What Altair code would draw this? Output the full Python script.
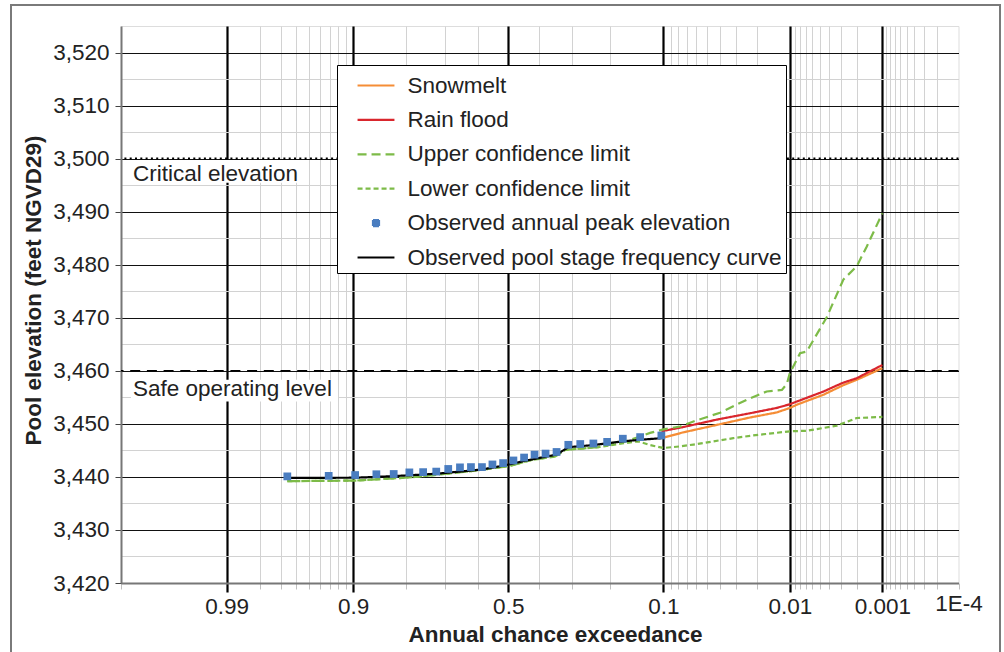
import altair as alt
import pandas as pd
from statistics import NormalDist

# ---------------- values ----------------
series_names = [
    "Snowmelt",
    "Rain flood",
    "Upper confidence limit",
    "Lower confidence limit",
    "Observed annual peak elevation",
    "Observed pool stage frequency curve",
]

# Observed annual peaks (annual chance exceedance, elevation ft)
obs_p = [0.966, 0.931, 0.897, 0.862, 0.828, 0.793, 0.759, 0.724, 0.690, 0.655,
         0.621, 0.586, 0.552, 0.517, 0.483, 0.448, 0.414, 0.379, 0.345, 0.310,
         0.276, 0.241, 0.207, 0.172, 0.138, 0.103]
obs_elev = [3440.1, 3440.2, 3440.35, 3440.5, 3440.55, 3440.85, 3440.9, 3441.0, 3441.5, 3441.8,
            3441.85, 3441.85, 3442.35, 3442.6, 3443.1, 3443.65, 3444.2, 3444.4, 3444.7, 3446.05,
            3446.2, 3446.3, 3446.6, 3447.2, 3447.5, 3447.8]

# Observed pool stage frequency curve
curve_p = [0.966, 0.897, 0.862, 0.793, 0.724, 0.655, 0.586, 0.517, 0.448, 0.379,
           0.345, 0.310, 0.241, 0.172, 0.138, 0.103]
curve_elev = [3439.8, 3439.85, 3440.0, 3440.3, 3440.6, 3441.0, 3441.4, 3442.1, 3443.0, 3443.8,
              3444.2, 3445.6, 3446.0, 3446.7, 3447.0, 3447.3]

# Snowmelt and rain flood frequency curves
snow_p = [0.103, 0.074, 0.0425, 0.0229, 0.0133, 0.01, 0.0086, 0.0046, 0.0029, 0.002, 0.001]
snow_elev = [3447.3, 3448.4, 3449.8, 3451.2, 3452.15, 3453.0, 3453.6, 3455.5, 3457.2, 3458.3, 3460.5]
rain_p = [0.103, 0.074, 0.0425, 0.0229, 0.0133, 0.01, 0.0086, 0.0046, 0.0029, 0.002, 0.001]
rain_elev = [3448.6, 3449.4, 3450.8, 3452.0, 3453.0, 3453.7, 3454.2, 3456.1, 3457.7, 3458.6, 3461.1]

# Confidence limits
upper_p = [0.966, 0.897, 0.793, 0.724, 0.621, 0.5, 0.4227, 0.349, 0.319, 0.229,
           0.1735, 0.138, 0.1207, 0.100, 0.078, 0.0631, 0.0401, 0.0244, 0.0164, 0.0119,
           0.0107, 0.01, 0.00797, 0.00684, 0.00426, 0.00282, 0.002, 0.00153, 0.001]
upper_elev = [3439.2, 3439.3, 3439.9, 3440.4, 3441.1, 3442.0, 3443.2, 3443.85, 3445.1, 3445.6,
              3446.5, 3447.6, 3448.3, 3448.95, 3449.5, 3450.45, 3452.1, 3454.55, 3456.1, 3456.4,
              3457.5, 3459.6, 3463.3, 3463.65, 3470.1, 3477.2, 3479.7, 3483.45, 3489.7]
lower_p = [0.966, 0.897, 0.793, 0.724, 0.621, 0.5, 0.4227, 0.349, 0.319, 0.229,
           0.1735, 0.1417, 0.1207, 0.100, 0.078, 0.0631, 0.0315, 0.0229, 0.01, 0.00684,
           0.00333, 0.002, 0.001]
lower_elev = [3439.2, 3439.3, 3439.9, 3440.4, 3441.1, 3442.0, 3443.2, 3443.85, 3445.1, 3445.6,
              3446.3, 3446.7, 3446.0, 3445.45, 3445.75, 3446.1, 3447.3, 3447.75, 3448.6, 3448.7,
              3449.65, 3451.1, 3451.3]

# Reference levels
ref_levels = [3500, 3460]
ref_labels = ["Critical elevation", "Safe operating level"]

# Axis ticks (annual chance exceedance)
x_major = [0.99, 0.9, 0.5, 0.1, 0.01, 0.001]
x_major_labels = ["0.99", "0.9", "0.5", "0.1", "0.01", "0.001"]
x_end = [0.0001]
x_end_labels = ["1E-4"]
x_minor = [0.98, 0.97, 0.96, 0.95, 0.94, 0.93, 0.92, 0.91,
           0.8, 0.7, 0.6, 0.4, 0.3, 0.2,
           0.09, 0.08, 0.07, 0.06, 0.05, 0.04, 0.03, 0.02,
           0.009, 0.008, 0.007, 0.006, 0.005, 0.004, 0.003, 0.002,
           0.0009, 0.0008, 0.0007, 0.0006, 0.0005, 0.0004, 0.0003, 0.0002]
x_left_edge = 0.99931
y_ticks = list(range(3420, 3525, 5))

# ---------------- probability (normal) transform ----------------
ND = NormalDist()


def zq(p):
    return round(ND.inv_cdf(1.0 - p), 5)


def frame(name, ps, es):
    return pd.DataFrame({"series": name, "z": [zq(p) for p in ps], "elev": es})


lines_df = pd.concat([
    frame(series_names[0], snow_p, snow_elev),
    frame(series_names[1], rain_p, rain_elev),
    frame(series_names[2], upper_p, upper_elev),
    frame(series_names[3], lower_p, lower_elev),
    frame(series_names[5], curve_p, curve_elev),
], ignore_index=True)
points_df = frame(series_names[4], obs_p, obs_elev)

# ---------------- styles ----------------
FONT = "Liberation Sans"
TXT = "#222222"
FS = 22.5
colors = ["#F58D36", "#D9262D", "#7DBB48", "#7DBB48", "#4A7DC0", "#000000"]
dashes = [[1, 0], [1, 0], [9, 5], [5, 3], [1, 0], [1, 0]]
LINE_SYM = "M-1.23,0H1.23"
SQ_SYM = "M-0.2,-0.2H0.2V0.2H-0.2Z"
shapes = [LINE_SYM, LINE_SYM, LINE_SYM, LINE_SYM, SQ_SYM, LINE_SYM]

z_major = [zq(p) for p in x_major]
z_end = [zq(p) for p in x_end]
z_minor = [zq(p) for p in x_minor]
z_left = zq(x_left_edge)
x_values = sorted(set([z_left] + z_major + z_end + z_minor))


def near(zs):
    return " || ".join(f"abs(datum.value - ({z})) < 0.0001" for z in zs)


major_test = near(z_major)
edge_test = near([z_left] + z_end)
label_pairs = list(zip(z_major, x_major_labels)) + list(zip(z_end, x_end_labels))
label_expr = ""
for z, lab in label_pairs:
    label_expr += f"abs(datum.value - ({z})) < 0.0001 ? '{lab}' : "
label_expr += "''"

x_axis = alt.Axis(
    title="Annual chance exceedance",
    values=x_values,
    labelExpr=label_expr,
    labelFont=FONT, labelFontSize=FS, labelColor=TXT, labelPadding=3,
    labelOverlap=False, labelFlush=False,
    titleFont=FONT, titleFontSize=FS, titleFontWeight="bold", titleColor=TXT,
    titleX=434, titleY=58, titleBaseline="alphabetic", titleAlign="center",
    domainColor="#777777", domainWidth=2,
    grid=True,
    gridColor={"condition": {"test": major_test, "value": "#000000"}, "value": "#d2d2d2"},
    gridWidth={"condition": {"test": major_test, "value": 2.2}, "value": 1},
    gridOpacity={"condition": {"test": edge_test, "value": 0}, "value": 1},
    ticks=True,
    tickColor={"condition": {"test": major_test, "value": "#000000"}, "value": "#c0c0c0"},
    tickWidth={"condition": {"test": major_test, "value": 2.2}, "value": 1},
    tickSize={"condition": {"test": major_test, "value": 9}, "value": 6},
)

y_axis = alt.Axis(
    title="Pool elevation (feet NGVD29)",
    values=y_ticks,
    labelExpr="datum.value % 10 == 0 ? format(datum.value, ',') : ''",
    labelFont=FONT, labelFontSize=FS, labelColor=TXT, labelPadding=6,
    titleFont=FONT, titleFontSize=FS, titleFontWeight="bold", titleColor=TXT,
    titleAngle=270, titleX=-81, titleY=264, titleBaseline="alphabetic", titleAlign="center",
    domainColor="#777777", domainWidth=2,
    grid=True,
    gridColor={"condition": {"test": "datum.value % 10 == 0", "value": "#111111"}, "value": "#d2d2d2"},
    gridWidth=1,
    tickColor="#444444", tickSize=6, tickWidth=1,
    tickOpacity={"condition": {"test": "datum.value % 10 == 0", "value": 1}, "value": 0},
)

X = alt.X("z:Q", scale=alt.Scale(domain=[z_left, z_end[0]], nice=False, zero=False), axis=x_axis)
Y = alt.Y("elev:Q", scale=alt.Scale(domain=[3420, 3525], nice=False, zero=False), axis=y_axis)

legend = alt.Legend(
    title=None, orient="none", legendX=216, legendY=39,
    fillColor="white", strokeColor="#000000", padding=4,
    labelFont=FONT, labelFontSize=FS, labelColor=TXT, labelLimit=600,
    symbolSize=900, symbolStrokeWidth=2.2, symbolOpacity=1,
    rowPadding=6.4, symbolOffset=18.5, labelOffset=15,
)

color = alt.Color("series:N", scale=alt.Scale(domain=series_names, range=colors), legend=legend)

# ---------------- layers ----------------
one = pd.DataFrame({"k": [0]})

outer_frame = alt.Chart(one).mark_rect(fillOpacity=0, stroke="#7a7a7a", strokeWidth=2).encode(
    x=alt.value(-110), x2=alt.value(879), y=alt.value(-21), y2=alt.value(660)
)

ref_df = pd.DataFrame({"elev": ref_levels, "label": ref_labels})

crit_box = alt.Chart(pd.DataFrame({"elev": [3499.75], "elev2": [3495.45]})).mark_rect(
    fill="white").encode(x=alt.value(9), x2=alt.value(181), y=Y, y2="elev2:Q")
safe_box = alt.Chart(pd.DataFrame({"elev": [3458.3], "elev2": [3454.2]})).mark_rect(
    fill="white").encode(x=alt.value(10), x2=alt.value(217), y=Y, y2="elev2:Q")

crit_rule = alt.Chart(ref_df.iloc[[0]]).mark_rule(
    color="#000000", strokeWidth=2, strokeDash=[2, 3.3]).encode(y=Y)
safe_rule = alt.Chart(ref_df.iloc[[1]]).mark_rule(
    color="#000000", strokeWidth=1.5, strokeDash=[10, 6.7]).encode(y=Y)

crit_text = alt.Chart(ref_df.iloc[[0]]).mark_text(
    align="left", baseline="middle", font=FONT, fontSize=FS, color=TXT, dx=12, dy=15.5
).encode(x=alt.value(0), y=Y, text="label:N")
safe_text = alt.Chart(ref_df.iloc[[1]]).mark_text(
    align="left", baseline="middle", font=FONT, fontSize=FS, color=TXT, dx=12, dy=18
).encode(x=alt.value(0), y=Y, text="label:N")

lines = alt.Chart(lines_df).mark_line(strokeWidth=2.2).encode(
    x=X, y=Y, color=color,
    strokeDash=alt.StrokeDash("series:N", scale=alt.Scale(domain=series_names, range=dashes), legend=legend),
    order="z:Q",
)

points = alt.Chart(points_df).mark_point(filled=True, size=1500, opacity=1).encode(
    x=X, y=Y, color=color,
    shape=alt.Shape("series:N", scale=alt.Scale(domain=series_names, range=shapes), legend=legend),
)

chart = alt.layer(
    outer_frame, crit_box, safe_box, crit_rule, safe_rule, crit_text, safe_text, lines, points
).properties(
    width=837.5, height=557,
    padding={"left": 121, "top": 26, "right": 45.5, "bottom": 69},
    autosize=alt.AutoSizeParams(type="none"),
).configure_view(
    stroke="#444444", strokeWidth=1.5
).configure(background="white")

chart.save("out.html", embed_options={"renderer": "svg", "actions": False})
